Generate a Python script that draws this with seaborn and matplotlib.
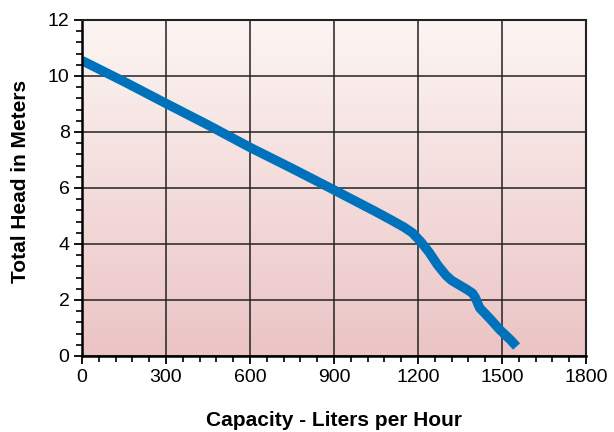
import numpy as np
import pandas as pd
import matplotlib
matplotlib.use("Agg")
import matplotlib.pyplot as plt
import seaborn as sns
from matplotlib.ticker import MultipleLocator

# Data
capacity_lph = [0, 150, 300, 450, 600, 750, 900, 1050, 1100, 1150, 1180, 1210, 1240, 1270, 1300, 1320, 1345, 1374, 1395, 1405, 1420, 1460, 1493, 1530, 1552]
head_m = [10.55, 9.8, 9.02, 8.25, 7.45, 6.7, 5.93, 5.15, 4.88, 4.60, 4.40, 4.08, 3.70, 3.25, 2.88, 2.70, 2.55, 2.38, 2.24, 2.08, 1.72, 1.30, 0.93, 0.58, 0.34]
x_ticks = [0, 300, 600, 900, 1200, 1500, 1800]
y_ticks = [0, 2, 4, 6, 8, 10, 12]

df = pd.DataFrame({"Capacity": capacity_lph, "Head": head_m})

sns.set_theme(style="white")
plt.rcParams["font.family"] = ["Liberation Sans", "DejaVu Sans"]
plt.rcParams["text.color"] = "black"
plt.rcParams["axes.labelcolor"] = "black"
plt.rcParams["xtick.color"] = "black"
plt.rcParams["ytick.color"] = "black"

fig = plt.figure(figsize=(6.14, 4.32), dpi=100)
ax = fig.add_axes([82/614, 1-356/432, 504/614, 336/432])

# gradient background
top = np.array([0.988, 0.962, 0.952])
bot = np.array([0.922, 0.768, 0.772])
t = np.linspace(0, 1, 256)[:, None]
grad = (top[None, :] * (1 - t) + bot[None, :] * t)[:, None, :]
ax.imshow(grad, extent=[0, 1, 0, 1], transform=ax.transAxes, aspect="auto", zorder=0)

sns.lineplot(data=df, x="Capacity", y="Head", ax=ax, color="#0072BC", linewidth=6.8,
             solid_capstyle="butt", solid_joinstyle="round", zorder=3, sort=False)

ax.set_xlim(0, 1800)
ax.set_ylim(0, 12)
ax.set_xticks(x_ticks)
ax.set_yticks(y_ticks)
ax.xaxis.set_minor_locator(MultipleLocator(60))
ax.yaxis.set_minor_locator(MultipleLocator(0.4))
ax.grid(True, which="major", color="#222222", linewidth=1.1, zorder=1)
ax.set_axisbelow(False)
for gl in ax.get_xgridlines() + ax.get_ygridlines():
    gl.set_zorder(1)

ax.tick_params(axis="both", which="major", direction="out", length=6, width=1.3,
               color="black", labelcolor="black", labelsize=14, pad=3, bottom=True, left=True)
ax.tick_params(axis="both", which="minor", direction="out", length=4, width=1.2,
               color="black", bottom=True, left=True)

for side in ["left", "bottom"]:
    ax.spines[side].set_linewidth(1.8)
    ax.spines[side].set_color("black")
for side in ["top", "right"]:
    ax.spines[side].set_linewidth(1.5)
    ax.spines[side].set_color("#222222")
for s in ax.spines.values():
    s.set_zorder(5)

ax.set_xlabel("Capacity - Liters per Hour", fontsize=15, fontweight="bold", labelpad=18, color="black")
ax.set_ylabel("Total Head in Meters", fontsize=15, fontweight="bold", labelpad=12, color="black")
ax.yaxis.set_label_coords(-0.104, 0.52)

fig.savefig("out.png", dpi=100)
